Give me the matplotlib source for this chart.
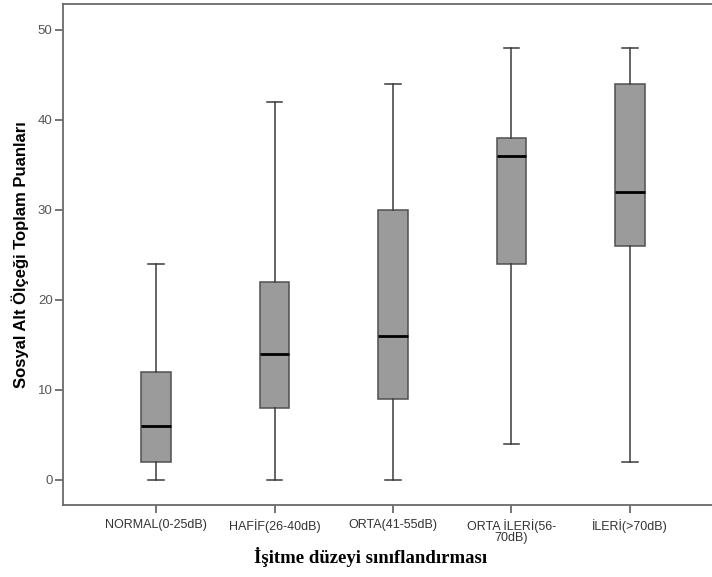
import matplotlib
matplotlib.use("Agg")
import matplotlib.pyplot as plt

categories = ["NORMAL(0-25dB)", "HAFİF(26-40dB)", "ORTA(41-55dB)", "ORTA İLERİ(56-\n70dB)", "İLERİ(>70dB)"]
whisker_low = [0, 0, 0, 4, 2]
q1 = [2, 8, 9, 24, 26]
median = [6, 14, 16, 36, 32]
q3 = [12, 22, 30, 38, 44]
whisker_high = [24, 42, 44, 48, 48]
yticks = [0, 10, 20, 30, 40, 50]

fig = plt.figure(figsize=(7.12, 5.77), dpi=100)
ax = fig.add_axes([63/712, 1-505/577, 660/712, (505-3.5)/577])

stats = []
for i in range(len(categories)):
    stats.append(dict(whislo=whisker_low[i], q1=q1[i], med=median[i], q3=q3[i],
                      whishi=whisker_high[i], fliers=[], label=categories[i]))

positions = list(range(1, len(categories) + 1))
ax.bxp(stats, positions=positions, widths=0.253, capwidths=0.127, showfliers=False,
       patch_artist=True,
       boxprops=dict(facecolor="#9b9b9b", edgecolor="#505050", linewidth=1.1),
       medianprops=dict(color="black", linewidth=2.0),
       whiskerprops=dict(color="#3a3a3a", linewidth=1.1),
       capprops=dict(color="#3a3a3a", linewidth=1.1))

ax.set_xlim(0.215, 5.785)
ax.set_ylim(-2.83, 52.9)
ax.set_yticks(yticks)
ax.set_yticklabels([str(v) for v in yticks])
ax.set_xticks(positions)
ax.set_xticklabels(categories, linespacing=0.9)

for sp in ax.spines.values():
    sp.set_color("#6a6a6a")
    sp.set_linewidth(1.3)

ax.tick_params(axis="y", direction="out", length=6, width=1.3, color="#6a6a6a",
               labelsize=9.5, labelcolor="#555555", pad=1.5)
ax.tick_params(axis="x", direction="out", length=6, width=1.3, color="#6a6a6a",
               labelsize=9, labelcolor="#333333", pad=4)
for lab in ax.get_xticklabels() + ax.get_yticklabels():
    lab.set_family(["Liberation Sans", "DejaVu Sans"])

ax.set_ylabel("Sosyal Alt Ölçeği Toplam Puanları", fontsize=12, fontweight="bold",
              family=["Liberation Sans", "DejaVu Sans"], labelpad=6)
fig.text(371/712, 1-557/577, "İşitme düzeyi sınıflandırması", ha="center", va="center",
         fontsize=13.5, fontweight="bold", family=["Liberation Serif", "DejaVu Serif"])

fig.savefig("out.png", dpi=100)
